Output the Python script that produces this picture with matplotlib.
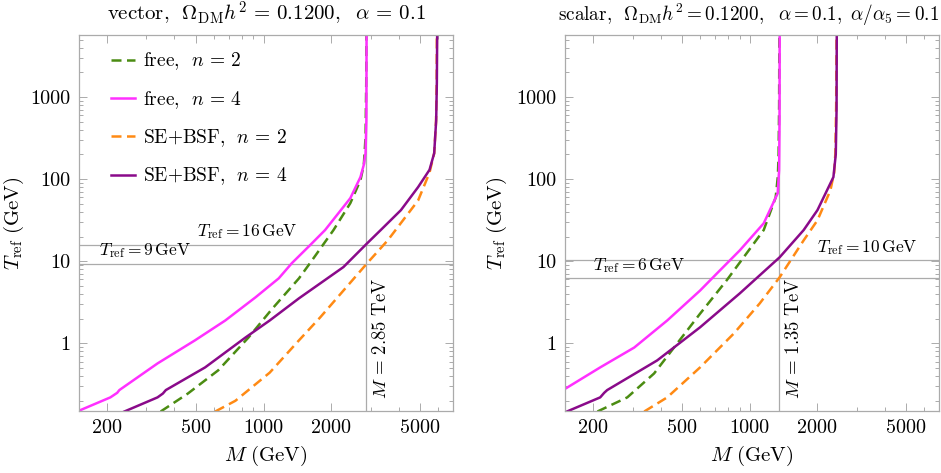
"""Two panels: T_ref versus M for vector and scalar dark matter."""

import matplotlib
matplotlib.use("Agg")
import matplotlib.pyplot as plt
from matplotlib.ticker import FixedLocator, NullFormatter, LogLocator

plt.rcParams["font.family"] = ["cmr10", "DejaVu Serif"]
plt.rcParams["mathtext.fontset"] = "cm"
plt.rcParams["axes.formatter.use_mathtext"] = True

# vector panel (GeV)
vec_free2_M = [347, 459, 627, 856, 1087, 1438, 1611, 2050, 2437, 2704, 2800, 2850, 2870, 2875]
vec_free2_T = [0.148, 0.245, 0.47, 1.18, 2.6, 6.2, 9.5, 24, 51, 97, 150, 325, 1500, 6000]
vec_free4_M = [147, 207, 222, 227, 336, 494, 674, 920, 1168, 1337, 1611, 1880, 2437, 2704,
               2800, 2850, 2875, 2880]
vec_free4_T = [0.148, 0.22, 0.25, 0.27, 0.57, 1.09, 1.9, 3.64, 6.2, 9.5, 15.7, 24, 58.7, 106,
               150, 207, 525, 6000]
vec_se2_M = [608, 748, 1064, 1438, 1787, 2900, 3580, 4890, 5500, 5770, 5880, 5920, 5930]
vec_se2_T = [0.148, 0.2, 0.44, 1.09, 2.07, 9.5, 18, 55, 120, 207, 500, 1500, 6000]
vec_se4_M = [239, 336, 355, 366, 548, 830, 1064, 1438, 2270, 2900, 3330, 4100, 4890, 5500,
             5770, 5890, 5930, 5950]
vec_se4_T = [0.148, 0.22, 0.245, 0.27, 0.51, 1.18, 1.9, 3.54, 8.5, 16.6, 24, 42, 80, 130,
             207, 525, 1500, 6000]

# scalar panel (GeV)
sca_free2_M = [209, 284, 374, 459, 600, 790, 990, 1154, 1305, 1335, 1345, 1352, 1355]
sca_free2_T = [0.148, 0.22, 0.43, 0.89, 2.3, 5.9, 13.6, 24, 60, 110, 207, 800, 6000]
sca_free4_M = [150, 215, 305, 428, 600, 713, 903, 1154, 1332, 1352, 1358, 1360]
sca_free4_T = [0.28, 0.51, 0.89, 1.9, 4.4, 7.1, 13.6, 29, 67, 129, 525, 6000]
sca_se2_M = [338, 428, 600, 849, 1108, 1360, 1740, 2005, 2290, 2380, 2410, 2430, 2440]
sca_se2_T = [0.148, 0.22, 0.51, 1.32, 3.07, 6.4, 18, 31.6, 73, 120, 207, 800, 6000]
sca_se4_M = [150, 215, 224, 231, 386, 600, 903, 1360, 1740, 2005, 2362, 2420, 2440, 2445]
sca_se4_T = [0.145, 0.22, 0.25, 0.27, 0.62, 1.57, 4.07, 11.2, 24, 42, 106, 200, 700, 6000]

GREEN = "#4b8c12"
MAGENTA = "#ff30ff"
ORANGE = "#ff8a14"
PURPLE = "#8a0a8a"
GREY = "#ababab"
DASH = (0, (4, 2.2))
LW = 1.8

x_ticks = [200, 500, 1000, 2000, 5000]
y_ticks = [1, 10, 100, 1000]


def style_axes(ax, ylab_x):
    ax.set_xscale("log")
    ax.set_yscale("log")
    ax.set_xlim(150, 7000)
    ax.set_ylim(0.15, 5700)
    ax.xaxis.set_major_locator(FixedLocator(x_ticks))
    ax.xaxis.set_major_formatter(plt.FuncFormatter(lambda v, p: f"{v:g}"))
    ax.xaxis.set_minor_locator(LogLocator(base=10, subs=range(1, 10), numticks=20))
    ax.xaxis.set_minor_formatter(NullFormatter())
    ax.yaxis.set_major_locator(FixedLocator(y_ticks))
    ax.yaxis.set_major_formatter(plt.FuncFormatter(lambda v, p: f"{v:g}"))
    ax.yaxis.set_minor_locator(LogLocator(base=10, subs=range(1, 10), numticks=20))
    ax.yaxis.set_minor_formatter(NullFormatter())
    ax.tick_params(which="both", direction="in", top=True, right=True,
                   color=GREY, labelsize=14.5, width=0.7)
    ax.tick_params(which="major", length=6, pad=6)
    ax.tick_params(which="minor", length=3)
    for sp in ax.spines.values():
        sp.set_color(GREY)
        sp.set_linewidth(0.9)
    ax.set_xlabel(r"$M\ \mathrm{(GeV)}$", fontsize=15, labelpad=5)
    ax.set_ylabel(r"$T_{\rm ref}\ \mathrm{(GeV)}$", fontsize=15)
    ax.yaxis.set_label_coords(ylab_x, 0.5)


fig, (ax1, ax2) = plt.subplots(1, 2, figsize=(9.41, 4.73), dpi=100)
fig.subplots_adjust(left=0.084, right=0.998, bottom=0.131, top=0.926, wspace=0.30)

# left: vector
ax1.plot(vec_free2_M, vec_free2_T, color=GREEN, ls=DASH, lw=LW, label=r"free, $\ n\,=\,2$")
ax1.plot(vec_free4_M, vec_free4_T, color=MAGENTA, lw=LW, label=r"free, $\ n\,=\,4$")
ax1.plot(vec_se2_M, vec_se2_T, color=ORANGE, ls=DASH, lw=LW, label=r"SE+BSF, $\ n\,=\,2$")
ax1.plot(vec_se4_M, vec_se4_T, color=PURPLE, lw=LW, label=r"SE+BSF, $\ n\,=\,4$")
ax1.axvline(2850, color=GREY, lw=0.9, zorder=0)
ax1.axhline(16, color=GREY, lw=0.9, zorder=0)
ax1.axhline(9.3, color=GREY, lw=0.9, zorder=0)
ax1.text(505, 17.6, r"$T_{\rm ref}=16\,\mathrm{GeV}$", fontsize=12.5, ha="left", va="bottom")
ax1.text(185, 10.3, r"$T_{\rm ref}=9\,\mathrm{GeV}$", fontsize=12.5, ha="left", va="bottom")
ax1.text(3050, 0.21, r"$M\,=\,2.85\ \mathrm{TeV}$", fontsize=13.5, rotation=90,
         ha="left", va="bottom")
ax1.set_title(r"vector, $\ \Omega_{\rm DM}h^2\,=\,0.1200,\ \ \alpha\,=\,0.1$",
              fontsize=15, pad=10)
style_axes(ax1, -0.141)
ax1.legend(loc="upper left", frameon=False, fontsize=14, handlelength=1.2,
           labelspacing=0.85, borderaxespad=0.3, handletextpad=0.45,
           bbox_to_anchor=(0.05, 0.995))

# right: scalar
ax2.plot(sca_free2_M, sca_free2_T, color=GREEN, ls=DASH, lw=LW)
ax2.plot(sca_free4_M, sca_free4_T, color=MAGENTA, lw=LW)
ax2.plot(sca_se2_M, sca_se2_T, color=ORANGE, ls=DASH, lw=LW)
ax2.plot(sca_se4_M, sca_se4_T, color=PURPLE, lw=LW)
ax2.axvline(1350, color=GREY, lw=0.9, zorder=0)
ax2.axhline(10.3, color=GREY, lw=0.9, zorder=0)
ax2.axhline(6.3, color=GREY, lw=0.9, zorder=0)
ax2.text(200, 6.9, r"$T_{\rm ref}=6\,\mathrm{GeV}$", fontsize=12.5, ha="left", va="bottom")
ax2.text(2005, 11.3, r"$T_{\rm ref}=10\,\mathrm{GeV}$", fontsize=12.5, ha="left", va="bottom")
ax2.text(1430, 0.21, r"$M\,=\,1.35\ \mathrm{TeV}$", fontsize=13.5, rotation=90,
         ha="left", va="bottom")
ax2.set_title(r"scalar, $\ \Omega_{\rm DM}h^2=0.1200,\ \ \alpha=0.1,\ \alpha/\alpha_5=0.1$",
              fontsize=13.8, pad=10, x=0.49)
style_axes(ax2, -0.15)

fig.savefig("out.png", dpi=100)
